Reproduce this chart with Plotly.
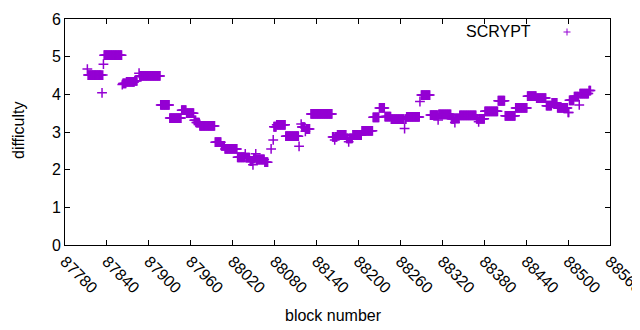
import numpy as np
import plotly.graph_objects as go

# Plateaus of constant difficulty: [start block, end block (exclusive)), value
seg_start = [87812, 87813, 87833, 87834, 87835, 87836, 87862, 87863, 87868, 87880,
             87886, 87887, 87917, 87930, 87947, 87954, 87965, 87968, 87973, 87995,
             88004, 88009, 88027, 88038, 88039, 88045, 88049, 88050, 88053, 88054,
             88066, 88075, 88078, 88079, 88083, 88096, 88115, 88118, 88119, 88124,
             88125, 88132, 88163, 88166, 88167, 88170, 88183, 88186, 88187, 88192,
             88205, 88221, 88230, 88238, 88247, 88266, 88267, 88269, 88288, 88290,
             88303, 88314, 88315, 88333, 88338, 88339, 88345, 88369, 88372, 88373,
             88381, 88400, 88410, 88425, 88442, 88455, 88469, 88477, 88485, 88500,
             88502, 88509, 88516, 88517, 88530]
seg_end = [87813, 87833, 87834, 87835, 87836, 87862, 87863, 87868, 87880, 87884,
           87887, 87917, 87930, 87947, 87954, 87965, 87968, 87973, 87995, 88004,
           88009, 88027, 88038, 88039, 88045, 88049, 88050, 88053, 88054, 88066,
           88071, 88076, 88079, 88083, 88096, 88115, 88116, 88119, 88124, 88125,
           88131, 88163, 88166, 88167, 88170, 88183, 88186, 88187, 88192, 88205,
           88221, 88230, 88238, 88247, 88266, 88267, 88269, 88288, 88289, 88303,
           88314, 88315, 88333, 88338, 88339, 88345, 88369, 88372, 88373, 88381,
           88400, 88410, 88425, 88442, 88455, 88469, 88477, 88485, 88500, 88502,
           88509, 88516, 88517, 88530, 88533]
seg_value = [4.67, 4.51, 4.04, 4.51, 4.80, 5.04, 4.26, 4.29, 4.33, 4.36,
             4.56, 4.49, 3.72, 3.37, 3.58, 3.50, 3.31, 3.25, 3.16, 2.73,
             2.63, 2.55, 2.33, 2.42, 2.32, 2.23, 2.13, 2.30, 2.42, 2.27,
             2.20, 2.55, 2.79, 3.14, 3.19, 2.89, 2.62, 3.21, 3.13, 3.02,
             3.08, 3.48, 2.87, 2.79, 2.87, 2.92, 2.83, 2.74, 2.83, 2.92,
             3.03, 3.39, 3.64, 3.41, 3.34, 3.09, 3.34, 3.40, 3.81, 3.98,
             3.45, 3.32, 3.47, 3.35, 3.25, 3.36, 3.44, 3.35, 3.27, 3.35,
             3.55, 3.83, 3.43, 3.64, 3.95, 3.90, 3.70, 3.77, 3.64, 3.52,
             3.84, 3.94, 3.72, 4.02, 4.10]

x_ticks = [87780, 87840, 87900, 87960, 88020, 88080, 88140, 88200,
           88260, 88320, 88380, 88440, 88500, 88560]
y_ticks = [0, 1, 2, 3, 4, 5, 6]

blocks, diffs = [], []
for s, e, v in zip(seg_start, seg_end, seg_value):
    for b in range(s, e):
        blocks.append(b)
        diffs.append(v)

COLOR = "#9400D3"
FONT = "Liberation Sans, Arial, sans-serif"
FS = 16

# The page body has an 8px margin, so figure coords = window coords - 8.
W, H = 632, 322
L, R, T, B = 57, 30, 11, 85
PW, PH = W - L - R, H - T - B


def px(xw):  # window x -> paper
    return (xw - 8 - L) / PW


def py(yw):  # window y -> paper
    return (H - B - (yw - 8)) / PH


fig = go.Figure()
fig.add_trace(go.Scatter(
    x=blocks, y=diffs, mode="markers", name="SCRYPT",
    marker=dict(symbol="cross-thin", size=7, color=COLOR,
                line=dict(color=COLOR, width=1.5)),
    showlegend=False,
))

axis_common = dict(showgrid=False, zeroline=False, showline=True, linecolor="black",
                   linewidth=1, mirror="ticks", ticks="inside", ticklen=5,
                   tickcolor="black", automargin=False, ticklabeloverflow="allow",
                   tickfont=dict(family=FONT, size=FS, color="black"))

fig.update_layout(
    width=W, height=H,
    margin=dict(l=L, r=R, t=T, b=B),
    plot_bgcolor="white", paper_bgcolor="white",
    font=dict(family=FONT, size=FS, color="black"),
    xaxis=dict(range=[87780, 88560], tickvals=x_ticks, ticktext=[str(t) for t in x_ticks],
               tickangle=45, **axis_common),
    yaxis=dict(range=[0, 6], tickvals=y_ticks, **axis_common),
    annotations=[
        dict(xref="paper", yref="paper", x=px(533), y=py(32),
             xanchor="right", yanchor="middle", text="SCRYPT", showarrow=False,
             font=dict(family=FONT, size=FS, color="black")),
        dict(xref="paper", yref="paper", x=px(333), y=py(315),
             xanchor="center", yanchor="middle", text="block number", showarrow=False,
             font=dict(family=FONT, size=FS, color="black")),
        dict(xref="paper", yref="paper", x=px(18), y=py(130),
             xanchor="center", yanchor="middle", text="difficulty", showarrow=False,
             textangle=-90, font=dict(family=FONT, size=FS, color="black")),
    ],
    shapes=[
        dict(type="line", xref="paper", yref="paper", x0=px(563.5), x1=px(570.5),
             y0=py(32), y1=py(32), line=dict(color=COLOR, width=1)),
        dict(type="line", xref="paper", yref="paper", x0=px(567), x1=px(567),
             y0=py(28.5), y1=py(35.5), line=dict(color=COLOR, width=1)),
    ],
)

fig.write_html("out.html")
